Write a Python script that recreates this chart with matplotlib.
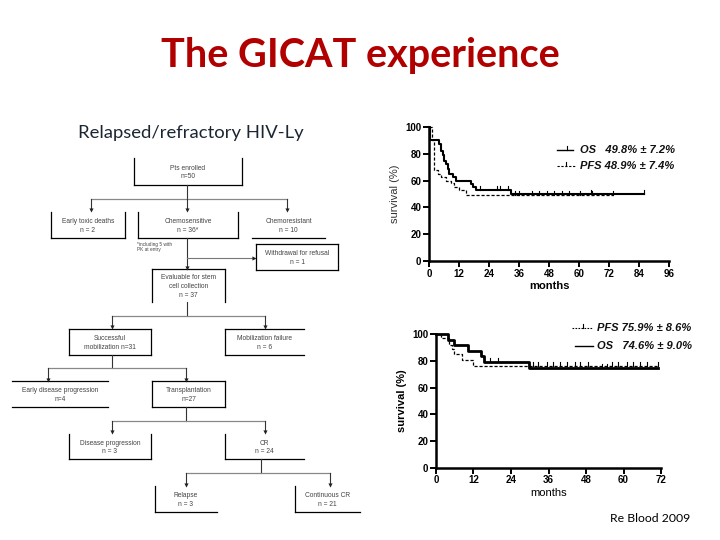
import matplotlib
matplotlib.use("Agg")
import matplotlib.pyplot as plt

# ---- slide text ----
TITLE = "The GICAT experience"
SUBTITLE = "Relapsed/refractory HIV-Ly"
SOURCE = "Re Blood 2009"

# ---- flowchart boxes: label, x0, y0, x1, y1 (pixels), visible sides ----
box_labels = [
    "Pts enrolled\nn=50",
    "Early toxic deaths\nn = 2",
    "Chemosensitive\nn = 36*",
    "Chemoresistant\nn = 10",
    "Withdrawal for refusal\nn = 1",
    "Evaluable for stem\ncell collection\nn = 37",
    "Successful\nmobilization n=31",
    "Mobilization failure\nn = 6",
    "Early disease progression\nn=4",
    "Transplantation\nn=27",
    "Disease progression\nn = 3",
    "CR\nn = 24",
    "Relapse\nn = 3",
    "Continuous CR\nn = 21",
]
box_x0 = [134, 51, 138, 252, 256, 152, 69, 225, 12, 152, 69, 225, 155, 295]
box_y0 = [158, 212, 212, 212, 244, 269, 329, 329, 381, 381, 434, 434, 486, 486]
box_x1 = [242, 125, 238, 325, 338, 225, 151, 304, 108, 225, 151, 304, 217, 360]
box_y1 = [185, 238, 238, 238, 270, 302, 355, 355, 407, 407, 459, 459, 512, 512]
box_sides = ["lrb", "lrb", "lrb", "b", "tlrb", "tlr", "tlrb", "tlb",
             "tb", "tlrb", "lrb", "lb", "lb", "lb"]
FOOTNOTE = "*including 5 with\nPK at entry"

# ---- Kaplan-Meier: relapsed/refractory (top) ----
top_os_t = [0, 0.5, 4.1, 4.8, 5.5, 6.1, 6.8, 7.5, 8.1, 9.5, 10.8, 16.8, 17.5, 18.8, 32.8, 85.8]
top_os_s = [100, 90, 87.5, 82, 79, 75, 72.6, 69, 65, 62.7, 60, 57.7, 55, 52.7, 49.8, 49.8]
top_pfs_t = [0, 1.0, 1.9, 3.5, 4.8, 6.8, 8.8, 10.1, 12.1, 14.8, 73.6]
top_pfs_s = [100, 90, 68, 65, 63, 60, 58, 55, 53, 48.9, 48.9]
top_os_cens = [20.4, 27.1, 28.4, 31.5, 64.8, 85.8]
top_pfs_cens = [34.5, 36.0, 41.0, 44.0, 47.0, 50.0, 53.0, 56.0, 60.5, 65.3, 73.6]
top_os_label = "OS   49.8% \u00b1 7.2%"
top_pfs_label = "PFS 48.9% \u00b1 7.4%"

# ---- Kaplan-Meier: transplanted (bottom) ----
bot_os_t = [0, 4.0, 5.9, 10.4, 14.5, 15.4, 29.7, 71]
bot_os_s = [100, 96, 92, 87.5, 83.5, 79, 74.6, 74.6]
bot_pfs_t = [0, 1.5, 4.3, 5.0, 5.9, 8.2, 12.0, 71]
bot_pfs_s = [100, 97, 92, 89, 85, 81, 75.9, 75.9]
bot_os_cens = [17.3, 19.9, 53.0, 54.6]
bot_pfs_cens = [31.1, 32.7, 35.4, 37.5, 39.7, 41.8, 44.5, 46.1, 48.7, 56.2, 58.3,
                61.0, 63.1, 65.3, 67.4, 71.0]
bot_pfs_label = "PFS 75.9% \u00b1 8.6%"
bot_os_label = "OS   74.6% \u00b1 9.0%"

SANS = ["Liberation Sans", "DejaVu Sans"]
TXT = "#444444"

fig = plt.figure(figsize=(7.2, 5.4), dpi=100)
fig.patch.set_facecolor("white")

# overlay axes in pixel coordinates for the flowchart and legends
ov = fig.add_axes([0, 0, 1, 1])
ov.set_xlim(0, 720)
ov.set_ylim(540, 0)
ov.axis("off")

fig.text(0.5, 1 - 55 / 540, TITLE, ha="center", va="center", fontsize=28.5,
         fontweight="bold", color="#b00000", family=["Lato", "DejaVu Sans"])
fig.text(78 / 720, 1 - 133 / 540, SUBTITLE, ha="left", va="center", fontsize=13.3,
         color="#1b2633", family=["Lato", "DejaVu Sans"])
fig.text(690 / 720, 1 - 518 / 540, SOURCE, ha="right", va="center", fontsize=8.8,
         color="black", family=["Lato", "DejaVu Sans"])

# flowchart boxes
for lbl, x0, y0, x1, y1, sides in zip(box_labels, box_x0, box_y0, box_x1, box_y1, box_sides):
    if "t" in sides:
        ov.plot([x0, x1], [y0, y0], color="black", lw=0.9)
    if "b" in sides:
        ov.plot([x0, x1], [y1, y1], color="black", lw=0.9)
    if "l" in sides:
        ov.plot([x0, x0], [y0, y1], color="black", lw=0.9)
    if "r" in sides:
        ov.plot([x1, x1], [y0, y1], color="black", lw=0.9)
    ov.text((x0 + x1) / 2, (y0 + y1) / 2 + 1, lbl, ha="center", va="center",
            fontsize=4.8, color=TXT, family=SANS, linespacing=1.35)

ov.text(137, 247, FOOTNOTE, ha="left", va="center", fontsize=3.4, color=TXT,
        family=SANS, linespacing=1.1)


def down_arrow(x, y0, y1):
    ov.plot([x, x], [y0, y1], color="#333333", lw=0.8)
    ov.plot([x], [y1], marker="v", ms=3, color="#222222", mew=0)


def branch(x_in, y_top, y_mid, xs, y_end):
    ov.plot([x_in, x_in], [y_top, y_mid], color="#333333", lw=0.8)
    ov.plot([min(xs), max(xs)], [y_mid, y_mid], color="#888888", lw=0.9)
    for x in xs:
        down_arrow(x, y_mid, y_end)


branch(187, 185, 199, [91, 187, 287], 210)
down_arrow(187, 238, 268)
ov.plot([187, 254], [258, 258], color="#777777", lw=0.8)
ov.plot([254], [258], marker=">", ms=3, color="#222222", mew=0)
branch(187, 302, 316, [112, 265], 327)
branch(112, 355, 368, [48, 186], 380)
branch(186, 407, 421, [112, 265], 432)
branch(261, 459, 473, [186, 330], 485)


def km_axes(rect, xmax, xstep, lw_os, os_t, os_s, pfs_t, pfs_s, os_c, pfs_c, ybold):
    ax = fig.add_axes(rect)
    ax.step(os_t, os_s, where="post", color="black", lw=lw_os, clip_on=False, zorder=3)
    ax.step(pfs_t, pfs_s, where="post", color="black", lw=0.9, ls=(0, (2.5, 1.5)),
            clip_on=False, zorder=3)
    # censor marks
    for t in os_c:
        y = [s for tt, s in zip(os_t, os_s) if tt <= t][-1]
        ax.plot([t, t], [y, y + 3], color="black", lw=0.8, clip_on=False)
    for t in pfs_c:
        y = [s for tt, s in zip(pfs_t, pfs_s) if tt <= t][-1]
        ax.plot([t, t], [y, y + 3], color="black", lw=0.8, clip_on=False)
    ax.set_xlim(0, xmax)
    ax.set_ylim(0, 100)
    ax.set_xticks(range(0, xmax + 1, xstep))
    ax.set_yticks(range(0, 101, 20))
    for s in ["top", "right"]:
        ax.spines[s].set_visible(False)
    for s in ["left", "bottom"]:
        ax.spines[s].set_linewidth(1.8)
    ax.tick_params(direction="out", length=4, width=1.4, pad=1.5)
    for lab in ax.get_xticklabels() + ax.get_yticklabels():
        lab.set_fontsize(7)
        lab.set_fontweight("bold")
        lab.set_family(SANS)
    ax.set_xlabel("months", fontsize=8, family=SANS, labelpad=2,
                  fontweight="bold" if not ybold else "normal")
    ax.set_ylabel("survival (%)", fontsize=8, family=SANS, labelpad=4,
                  fontweight="bold" if ybold else "normal",
                  color="black" if ybold else "#333333")
    ax.patch.set_alpha(0)
    return ax


km_axes([429 / 720, 1 - 261 / 540, 240 / 720, 134 / 540], 96, 12, 1.5,
        top_os_t, top_os_s, top_pfs_t, top_pfs_s, top_os_cens, top_pfs_cens, False)
km_axes([436 / 720, 1 - 467.7 / 540, 225 / 720, 133.4 / 540], 72, 12, 2.0,
        bot_os_t, bot_os_s, bot_pfs_t, bot_pfs_s, bot_os_cens, bot_pfs_cens, True)

# legends drawn in slide pixel space
leg_font = dict(fontsize=8, fontweight="bold", style="italic", family=SANS,
                va="center", ha="left", color="#111111")
ov.plot([557, 573], [150, 150], color="black", lw=1.0)
ov.plot([567, 567], [146, 150], color="black", lw=0.8)
ov.text(580, 150, top_os_label, **leg_font)
ov.plot([557, 575], [166, 166], color="black", lw=0.8, ls=(0, (2, 1.5)))
ov.plot([566, 566], [162, 166], color="black", lw=0.8)
ov.text(580, 166, top_pfs_label, **leg_font)

ov.plot([572, 593], [328, 328], color="black", lw=0.8, ls=(0, (1.5, 1.2)))
ov.plot([583, 583], [324, 328], color="black", lw=0.8)
ov.text(597, 328, bot_pfs_label, **leg_font)
ov.plot([575, 593], [346, 346], color="black", lw=1.0)
ov.text(597, 346, bot_os_label, **leg_font)

fig.savefig("out.png", dpi=100)
